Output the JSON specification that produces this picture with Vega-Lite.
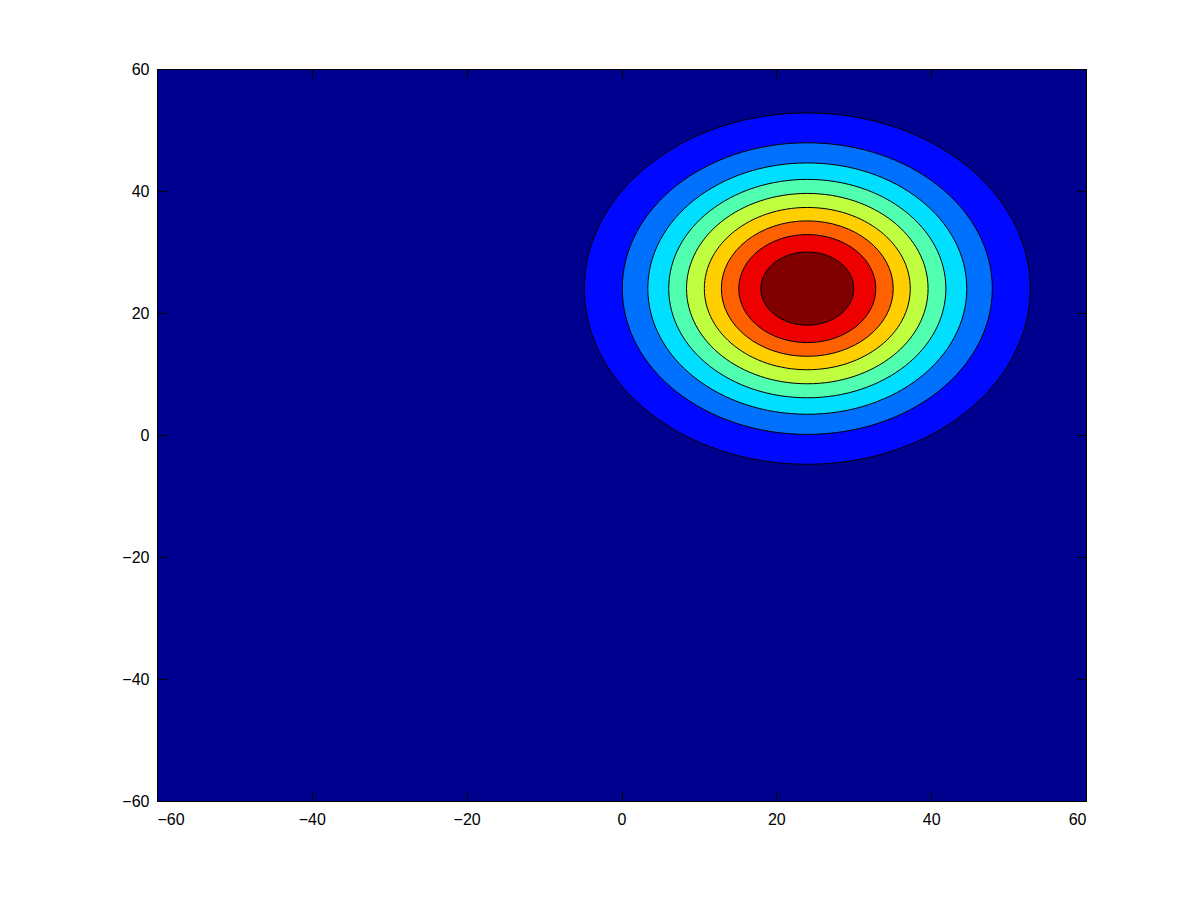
{
  "$schema": "https://vega.github.io/schema/vega-lite/v6.json",
  "width": 929,
  "height": 732,
  "autosize": {"type": "none"},
  "padding": {"left": 157, "top": 69, "right": 114, "bottom": 100},
  "background": "white",
  "config": {
    "view": {"fill": "#00008F", "stroke": "black", "strokeWidth": 1},
    "axis": {
      "domainColor": "black",
      "tickColor": "black",
      "tickSize": -9,
      "labelColor": "black",
      "labelFont": "Liberation Sans",
      "labelFontSize": 16,
      "grid": false,
      "title": null
    }
  },
  "data": {
    "values": [
      {"level": 1, "radius": 28.8, "cx": 24, "cy": 24},
      {"level": 2, "radius": 23.9, "cx": 24, "cy": 24},
      {"level": 3, "radius": 20.6, "cx": 24, "cy": 24},
      {"level": 4, "radius": 17.9, "cx": 24, "cy": 24},
      {"level": 5, "radius": 15.6, "cx": 24, "cy": 24},
      {"level": 6, "radius": 13.3, "cx": 24, "cy": 24},
      {"level": 7, "radius": 11.1, "cx": 24, "cy": 24},
      {"level": 8, "radius": 8.85, "cx": 24, "cy": 24},
      {"level": 9, "radius": 6.0, "cx": 24, "cy": 24}
    ]
  },
  "layer": [
    {
      "mark": {
        "type": "point",
        "shape": "M -1 0 A 1 0.788 0 1 1 1 0 A 1 0.788 0 1 1 -1 0 Z",
        "filled": true,
        "opacity": 1,
        "stroke": "black",
        "strokeWidth": 1,
        "clip": true
      },
      "encoding": {
        "x": {
          "field": "cx", "type": "quantitative",
          "scale": {"domain": [-60, 60], "nice": false, "zero": false},
          "axis": {"orient": "bottom", "values": [-60, -40, -20, 0, 20, 40, 60], "labelPadding": 19}
        },
        "y": {
          "field": "cy", "type": "quantitative",
          "scale": {"domain": [-60, 60], "nice": false, "zero": false},
          "axis": {"orient": "left", "values": [-60, -40, -20, 0, 20, 40, 60], "labelPadding": 17}
        },
        "size": {
          "field": "radius", "type": "quantitative",
          "scale": {"type": "pow", "exponent": 2, "domain": [0, 60], "range": [0, 863041]},
          "legend": null
        },
        "color": {
          "field": "level", "type": "ordinal",
          "scale": {
            "domain": [1, 2, 3, 4, 5, 6, 7, 8, 9],
            "range": ["#0008FF", "#0070FF", "#00DFFF", "#50FFAF", "#BFFF40", "#FFCF00", "#FF6000", "#EF0000", "#800000"]
          },
          "legend": null
        },
        "order": {"field": "radius", "type": "quantitative", "sort": "descending"}
      }
    },
    {
      "mark": {"type": "point", "opacity": 0},
      "encoding": {
        "x": {
          "field": "cx", "type": "quantitative",
          "scale": {"domain": [-60, 60], "nice": false, "zero": false},
          "axis": {"orient": "top", "values": [-60, -40, -20, 0, 20, 40, 60], "labels": false}
        },
        "y": {
          "field": "cy", "type": "quantitative",
          "scale": {"domain": [-60, 60], "nice": false, "zero": false},
          "axis": {"orient": "right", "values": [-60, -40, -20, 0, 20, 40, 60], "labels": false}
        }
      }
    }
  ],
  "resolve": {"axis": {"x": "independent", "y": "independent"}}
}
